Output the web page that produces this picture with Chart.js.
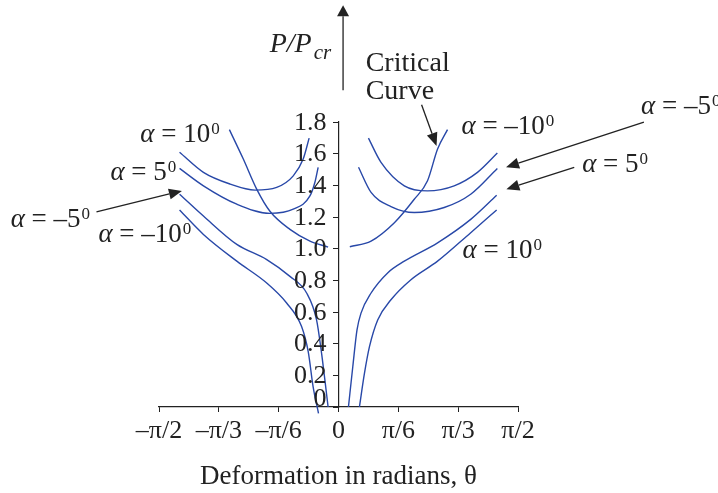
<!DOCTYPE html>
<html>
<head>
<meta charset="utf-8">
<script src="https://cdn.jsdelivr.net/npm/chart.js@4.4.1/dist/chart.umd.min.js"></script>
<style>
  body { margin: 0; background: #fff; }
  #wrap { width: 718px; height: 493px; }
</style>
</head>
<body>
<div id="wrap"><canvas id="chart" width="718" height="493"></canvas></div>
<script>
/* DATA (theta in radians, P/Pcr) */
const xTickValues = [-Math.PI / 2, -Math.PI / 3, -Math.PI / 6, 0, Math.PI / 6, Math.PI / 3, Math.PI / 2];
const xTickLabels = ['\u2013\u03c0/2', '\u2013\u03c0/3', '\u2013\u03c0/6', '0', '\u03c0/6', '\u03c0/3', '\u03c0/2'];
const yTickValues = [0, 0.2, 0.4, 0.6, 0.8, 1.0, 1.2, 1.4, 1.6, 1.8];
const yTickLabels = ['0', '0.2', '0.4', '0.6', '0.8', '1.0', '1.2', '1.4', '1.6', '1.8'];

// left side
const a10LeftTheta = [-1.391, -1.182, -0.949, -0.730, -0.541, -0.396, -0.309, -0.257];
const a10LeftP     = [1.609, 1.482, 1.408, 1.370, 1.387, 1.460, 1.566, 1.698];
const a5LeftTheta  = [-1.391, -1.182, -0.890, -0.600, -0.396, -0.250, -0.207, -0.178];
const a5LeftP      = [1.507, 1.397, 1.281, 1.223, 1.249, 1.333, 1.418, 1.514];
const aM5LeftTheta = [-1.391, -1.182, -0.890, -0.628, -0.425, -0.279, -0.192, -0.148, -0.119, -0.091];
const aM5LeftP     = [1.344, 1.206, 1.027, 0.931, 0.825, 0.720, 0.550, 0.339, 0.170, 0.0];
const aM10LeftTheta = [-1.391, -1.182, -0.890, -0.628, -0.454, -0.323, -0.265, -0.222, -0.175];
const aM10LeftP     = [1.244, 1.090, 0.921, 0.783, 0.657, 0.508, 0.349, 0.127, -0.04];

// right side
const aM10RightTheta = [0.262, 0.372, 0.576, 0.779, 1.012, 1.216, 1.390];
const aM10RightP     = [1.698, 1.545, 1.397, 1.365, 1.397, 1.482, 1.604];
const aM5RightTheta  = [0.175, 0.285, 0.459, 0.663, 0.925, 1.157, 1.390];
const aM5RightP      = [1.514, 1.355, 1.266, 1.228, 1.260, 1.344, 1.507];
const a5RightTheta   = [0.087, 0.125, 0.162, 0.197, 0.285, 0.430, 0.576, 0.867, 1.157, 1.384];
const a5RightP       = [0.0, 0.254, 0.487, 0.593, 0.720, 0.847, 0.921, 1.037, 1.185, 1.337];
const a10RightTheta  = [0.183, 0.227, 0.271, 0.343, 0.459, 0.634, 0.867, 1.157, 1.384];
const a10RightP      = [0.0, 0.212, 0.381, 0.550, 0.677, 0.804, 0.921, 1.101, 1.244];

// critical curve (two branches)
const critLeftTheta  = [-0.955, -0.833, -0.716, -0.600, -0.425, -0.250, -0.091];
const critLeftP      = [1.752, 1.566, 1.376, 1.236, 1.122, 1.048, 1.010];
const critRightTheta = [0.099, 0.285, 0.489, 0.663, 0.779, 0.867, 0.954];
const critRightP     = [1.012, 1.048, 1.164, 1.312, 1.429, 1.630, 1.752];

const SERIF = '"Liberation Serif", "Times New Roman", serif';
const INK = '#222';
const LINE = 'rgb(40, 72, 168)';

function toPoints(xs, ys) {
  return xs.map((x, i) => ({ x: x, y: ys[i] }));
}

const curves = [
  ['alpha 10 (left)', a10LeftTheta, a10LeftP],
  ['alpha 5 (left)', a5LeftTheta, a5LeftP],
  ['alpha -5 (left)', aM5LeftTheta, aM5LeftP],
  ['alpha -10 (left)', aM10LeftTheta, aM10LeftP],
  ['alpha -10 (right)', aM10RightTheta, aM10RightP],
  ['alpha -5 (right)', aM5RightTheta, aM5RightP],
  ['alpha 5 (right)', a5RightTheta, a5RightP],
  ['alpha 10 (right)', a10RightTheta, a10RightP],
  ['critical (left)', critLeftTheta, critLeftP],
  ['critical (right)', critRightTheta, critRightP]
];

/* ANNOTATIONS */
function arrow(ctx, x1, y1, x2, y2, len, half) {
  const a = Math.atan2(y2 - y1, x2 - x1);
  const bx = x2 - len * Math.cos(a);
  const by = y2 - len * Math.sin(a);
  ctx.beginPath();
  ctx.moveTo(x1, y1);
  ctx.lineTo(bx, by);
  ctx.lineWidth = 1.3;
  ctx.stroke();
  ctx.beginPath();
  ctx.moveTo(x2, y2);
  ctx.lineTo(bx + half * Math.sin(a), by - half * Math.cos(a));
  ctx.lineTo(bx - half * Math.sin(a), by + half * Math.cos(a));
  ctx.closePath();
  ctx.fill();
}

function alphaLabel(ctx, value, x, y) {
  ctx.font = 'italic 27px ' + SERIF;
  ctx.fillText('\u03b1', x, y);
  let w = ctx.measureText('\u03b1').width;
  const rest = ' = ' + value;
  ctx.font = '27px ' + SERIF;
  ctx.fillText(rest, x + w, y);
  w += ctx.measureText(rest).width;
  ctx.font = '17px ' + SERIF;
  ctx.fillText('0', x + w + 1, y - 8);
}

const annotations = {
  id: 'annotations',
  afterDraw(chart) {
    const ctx = chart.ctx;
    const xs = chart.scales.x;
    const ys = chart.scales.y;
    const px = v => xs.getPixelForValue(v);
    const py = v => ys.getPixelForValue(v);
    ctx.save();
    ctx.fillStyle = INK;
    ctx.strokeStyle = INK;

    // y tick labels sit left of the centred axis; "0" rests on the x axis
    ctx.font = '26px ' + SERIF;
    ctx.textAlign = 'right';
    ctx.textBaseline = 'middle';
    yTickValues.forEach((v, i) => {
      if (i > 0) ctx.fillText(yTickLabels[i], px(0) - 12, py(v) + 1);
    });
    ctx.textBaseline = 'alphabetic';
    ctx.fillText(yTickLabels[0], px(0) - 12, py(0) - 1);
    ctx.textAlign = 'left';

    // y axis arrow + title
    arrow(ctx, px(0.040), py(2.0), px(0.040), py(2.538), 11, 6);
    ctx.font = 'italic 28px ' + SERIF;
    const pp = 'P/P';
    const ppW = ctx.measureText(pp).width;
    ctx.fillText(pp, px(-0.235) - ppW, py(2.240));
    ctx.font = 'italic 21px ' + SERIF;
    ctx.fillText('cr', px(-0.235) + 2, py(2.240) + 7);

    // critical curve label
    ctx.font = '28px ' + SERIF;
    ctx.fillText('Critical', px(0.238), py(2.119));
    ctx.fillText('Curve', px(0.238), py(1.947));
    arrow(ctx, px(0.727), py(1.909), px(0.858), py(1.649), 13, 5.5);

    // alpha labels
    alphaLabel(ctx, '10', px(-1.734), py(1.674));
    alphaLabel(ctx, '5', px(-1.996), py(1.433));
    alphaLabel(ctx, '\u20135', px(-2.869), py(1.135));
    alphaLabel(ctx, '\u201310', px(-2.101), py(1.039));
    alphaLabel(ctx, '\u201310', px(1.076), py(1.725));
    alphaLabel(ctx, '\u20135', px(2.647), py(1.853));
    alphaLabel(ctx, '5', px(2.132), py(1.484));
    alphaLabel(ctx, '10', px(1.085), py(0.938));

    arrow(ctx, px(-2.118), py(1.232), px(-1.370), py(1.365), 13, 5.5);
    arrow(ctx, px(2.673), py(1.799), px(1.466), py(1.514), 13, 5.5);
    arrow(ctx, px(2.063), py(1.514), px(1.469), py(1.376), 13, 5.5);
    ctx.restore();
  }
};

Chart.defaults.font.family = SERIF;
Chart.defaults.color = INK;

new Chart(document.getElementById('chart'), {
  type: 'scatter',
  data: {
    datasets: curves.map(c => ({
      label: c[0],
      data: toPoints(c[1], c[2]),
      showLine: true,
      borderColor: LINE,
      borderWidth: 1.4,
      pointRadius: 0,
      cubicInterpolationMode: 'monotone',
      clip: false,
      fill: false
    }))
  },
  options: {
    responsive: false,
    animation: false,
    devicePixelRatio: 1,
    layout: { padding: { left: 159, right: 200, top: 122, bottom: 0 } },
    plugins: { legend: { display: false }, tooltip: { enabled: false } },
    scales: {
      x: {
        type: 'linear',
        position: 'bottom',
        min: -Math.PI / 2,
        max: Math.PI / 2,
        afterBuildTicks: s => { s.ticks = xTickValues.map(v => ({ value: v })); },
        afterFit: s => { s.height = 86; },
        ticks: {
          callback: (v, i) => xTickLabels[i],
          font: { size: 26 },
          padding: 4,
          maxRotation: 0,
          autoSkip: false
        },
        grid: { drawOnChartArea: false, tickLength: 5, color: INK },
        border: { color: INK, width: 1.2 },
        title: {
          display: true,
          text: 'Deformation in radians, \u03b8',
          font: { size: 27 },
          padding: { top: 0, bottom: 0 }
        }
      },
      y: {
        type: 'linear',
        position: { x: 0 },
        min: 0,
        max: 1.8,
        afterBuildTicks: s => { s.ticks = yTickValues.map(v => ({ value: v })); },
        ticks: {
          callback: () => '',
          autoSkip: false
        },
        grid: { drawOnChartArea: false, tickLength: 5, color: INK },
        border: { color: INK, width: 1.2 }
      }
    }
  },
  plugins: [annotations]
});
</script>
</body>
</html>
